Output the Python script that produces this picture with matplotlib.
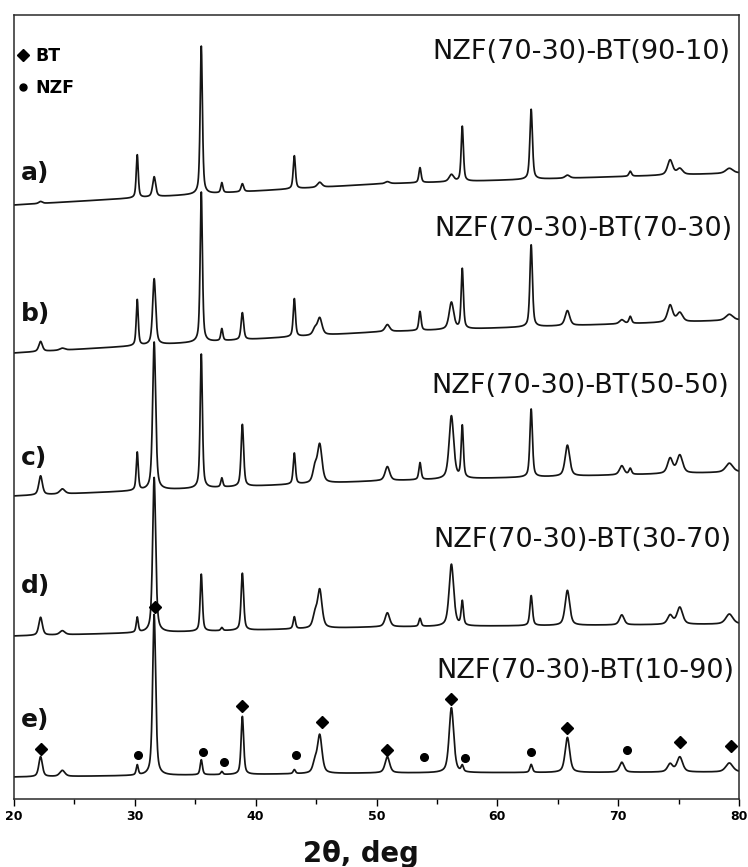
import numpy as np
import matplotlib
matplotlib.use("Agg")
import matplotlib.pyplot as plt
from matplotlib.lines import Line2D
from matplotlib.ticker import MultipleLocator

# ---------------- data ----------------
sample_names = ["NZF(70-30)-BT(90-10)", "NZF(70-30)-BT(70-30)",
                "NZF(70-30)-BT(50-50)", "NZF(70-30)-BT(30-70)",
                "NZF(70-30)-BT(10-90)"]
panel_tags = ["a)", "b)", "c)", "d)", "e)"]

# reflection positions (2theta, deg) and widths (FWHM, deg)
peak_pos = [22.2, 24.0, 30.2, 31.6, 35.5, 37.2, 38.9, 43.2, 44.9, 45.3, 50.9,
            53.6, 56.2, 57.1, 62.8, 65.8, 70.3, 71.0, 74.3, 75.1, 79.2]
peak_fwhm = [0.35, 0.5, 0.2, 0.3, 0.22, 0.2, 0.25, 0.22, 0.4, 0.45, 0.45,
             0.22, 0.45, 0.22, 0.25, 0.45, 0.45, 0.25, 0.5, 0.55, 0.7]

# peak heights for each sample (stacked intensity units)
heights_a = [2, 0, 43, 20, 148, 10, 8, 33, 0, 5, 2,
             15, 7, 55, 70, 3, 0, 5, 15, 6, 5]
heights_b = [10, 2, 46, 66, 150, 12, 27, 38, 6, 17, 7,
             19, 27, 60, 82, 15, 4, 7, 17, 9, 6]
heights_c = [19, 5, 38, 148, 134, 9, 62, 31, 14, 38, 14,
             17, 63, 52, 68, 31, 9, 6, 15, 18, 9]
heights_d = [18, 4, 15, 155, 57, 3, 57, 12, 12, 38, 14,
             8, 62, 24, 30, 35, 10, 0, 9, 17, 10]
heights_e = [20, 6, 10, 161, 15, 3, 58, 4, 10, 38, 16,
             0, 65, 6, 8, 35, 10, 0, 8, 15, 9]

# background level of each stacked trace at 2theta = 20, 50, 80
baseline_knots = [20, 50, 80]
baseline_a = [594, 615, 626]
baseline_b = [446, 467, 479]
baseline_c = [303, 318, 327]
baseline_d = [163, 172, 175]
baseline_e = [22, 26, 27]

# phase markers on pattern e)
bt_marker_pos = [22.2, 31.7, 38.9, 45.5, 50.9, 56.2, 65.8, 75.1, 79.3]
bt_marker_y = [50, 192, 93, 77, 49, 100, 71, 57, 53]
nzf_marker_pos = [30.3, 35.6, 37.4, 43.3, 53.9, 57.3, 62.8, 70.7]
nzf_marker_y = [44, 47, 37, 44, 42, 41, 47, 49]

heights = [heights_a, heights_b, heights_c, heights_d, heights_e]
baselines = [baseline_a, baseline_b, baseline_c, baseline_d, baseline_e]

# ---------------- layout ----------------
W, H = 748, 867
fig = plt.figure(figsize=(W / 100, H / 100), dpi=100)
ax = fig.add_axes([14 / W, 68 / H, 725 / W, 784 / H])

tt = np.linspace(20, 80, 6001)


def pattern(hts, base):
    y = np.interp(tt, baseline_knots, base)
    for p, w, h in zip(peak_pos, peak_fwhm, hts):
        if h <= 0:
            continue
        d = (tt - p) / (w / 2.0)
        lor = 1.0 / (1.0 + d ** 2)
        gau = np.exp(-np.log(2) * d ** 2)
        y = y + h * (0.55 * lor + 0.45 * gau)
    return y


line_col = "#151515"
for hts, base in zip(heights, baselines):
    ax.plot(tt, pattern(hts, base), color=line_col, lw=1.25)

ax.plot(bt_marker_pos, bt_marker_y, ls="none", marker="D", ms=6.3,
        color="black", zorder=5)
ax.plot(nzf_marker_pos, nzf_marker_y, ls="none", marker="o", ms=5.5,
        color="black", zorder=5)

# sample labels (right aligned) and panel tags
label_baseline_y = [740, 563, 406, 252, 121]
tag_baseline_y = [619, 478, 334, 206, 72]
label_x = [79.25, 79.5, 79.2, 79.4, 79.6]
for name, tag, ly, gy, lx in zip(sample_names, panel_tags, label_baseline_y,
                                 tag_baseline_y, label_x):
    ax.text(lx, ly, name, ha="right", va="baseline", fontsize=19.5,
            color="#111111")
    ax.text(20.55, gy, tag, ha="left", va="baseline", fontsize=18,
            fontweight="bold", color="#111111")

handles = [Line2D([], [], ls="none", marker="D", ms=6.0, color="black"),
           Line2D([], [], ls="none", marker="o", ms=5.0, color="black")]
ax.legend(handles, ["BT", "NZF"], loc="upper left",
          bbox_to_anchor=(-0.004, 0.966), frameon=False,
          prop={"weight": "bold", "size": 12.5}, handlelength=0.8,
          handletextpad=0.3, labelspacing=0.8, borderaxespad=0.0,
          borderpad=0.3)

ax.set_xlim(20, 80)
ax.set_ylim(0, 784)
ax.set_yticks([])
ax.xaxis.set_major_locator(MultipleLocator(10))
ax.xaxis.set_minor_locator(MultipleLocator(5))
ax.tick_params(axis="x", which="major", direction="out", length=5, width=1.0,
               labelsize=9, pad=3)
ax.tick_params(axis="x", which="minor", direction="out", length=3.5, width=1.0)
for lab in ax.get_xticklabels():
    lab.set_fontweight("bold")
for sp in ax.spines.values():
    sp.set_linewidth(1.1)
    sp.set_color("#2a2a2a")

fig.text(361 / W, (H - 862) / H, "2\u03b8, deg", ha="center", va="baseline",
         fontsize=19.8, fontweight="bold", color="#111111")

fig.savefig("out.png", dpi=100)
